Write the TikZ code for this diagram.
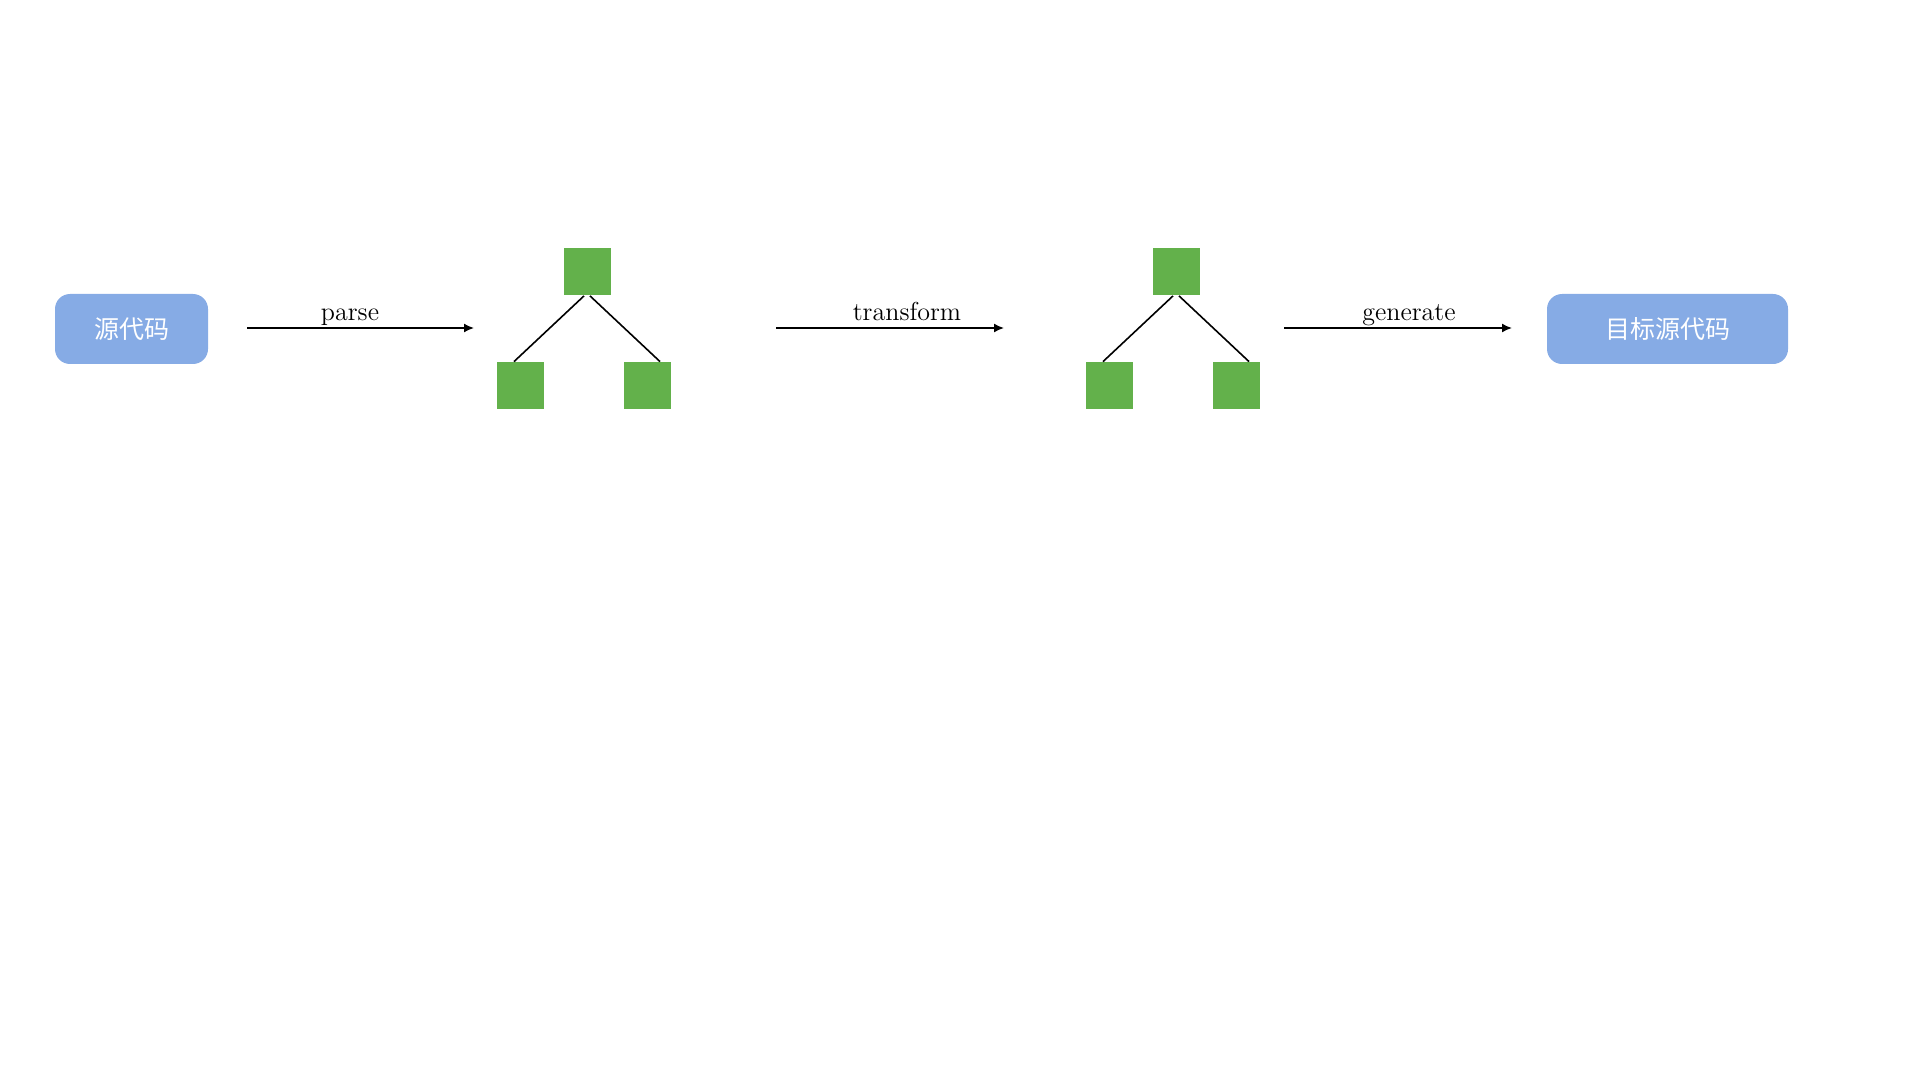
\documentclass[tikz,border=0pt]{standalone}
\usepackage{fontspec}
\newfontfamily\cjk{Noto Sans CJK SC}
\usetikzlibrary{arrows.meta}
\definecolor{codeblue}{RGB}{134,171,229}
\definecolor{leafgreen}{RGB}{99,177,75}
\tikzset{
  srcbox/.style={fill=codeblue, rounded corners=7.5pt, text=white, inner sep=0pt,
    minimum height=35pt, font=\cjk\fontsize{12.5}{14}\selectfont},
  astnode/.style={fill=leafgreen, minimum size=23.5pt, inner sep=0pt},
  steplabel/.style={anchor=base, inner sep=0pt, font=\fontsize{13}{15}\selectfont},
}
\begin{document}
\begin{tikzpicture}[x=0.5pt, y=-0.5pt, >={Latex[length=5pt,width=4.5pt]}]

            \useasboundingbox (0,0) rectangle (1920,1080);

            % source and target code
            \node[srcbox, minimum width=76.5pt] (src) at (131.5,329) {源代码};
            \node[srcbox, minimum width=120.5pt] (dst) at (1667.5,329) {目标源代码};

            % AST before
            \begin{scope}
                \node[astnode] (r1) at (587.5,272) {};
                \node[astnode] (a1) at (520.5,385.5) {};
                \node[astnode] (b1) at (647.5,385.5) {};

                \draw[line width=0.8pt] ([xshift=-1.75pt]r1.south) -- ([xshift=-3.25pt]a1.north);
                \draw[line width=0.8pt] ([xshift=1.25pt]r1.south) -- ([xshift=6.25pt]b1.north);
            \end{scope}

            % AST after
            \begin{scope}[shift={(589,0)}]
                \node[astnode] (r2) at (587.5,272) {};
                \node[astnode] (a2) at (520.5,385.5) {};
                \node[astnode] (b2) at (647.5,385.5) {};

                \draw[line width=0.8pt] ([xshift=-1.75pt]r2.south) -- ([xshift=-3.25pt]a2.north);
                \draw[line width=0.8pt] ([xshift=1.25pt]r2.south) -- ([xshift=6.25pt]b2.north);
            \end{scope}

            % steps
            \coordinate (p0) at (247,328);
            \coordinate (p1) at (474,328);
            \coordinate (t0) at (776,328);
            \coordinate (t1) at (1004,328);
            \coordinate (g0) at (1284,328);
            \coordinate (g1) at (1512,328);

            \draw[->, line width=0.8pt] (p0) -- (p1);
            \draw[->, line width=0.8pt] (t0) -- (t1);
            \draw[->, line width=0.8pt] (g0) -- (g1);
            \node[steplabel] (parse) at (350,321) {parse};
            \node[steplabel] (transform) at (907,321) {transform};
            \node[steplabel] (generate) at (1409,321) {generate};

        \end{tikzpicture}
\end{document}
